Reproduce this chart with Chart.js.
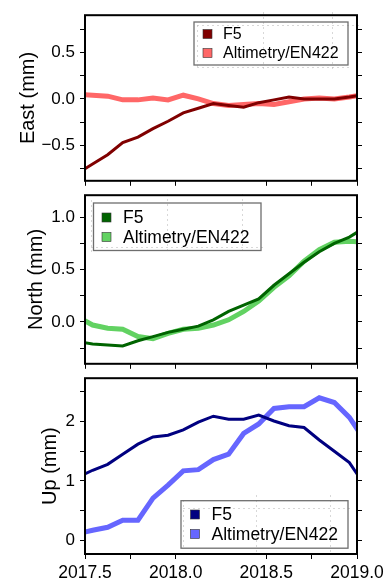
<!DOCTYPE html>
<html lang="en">
<head>
<meta charset="UTF-8">
<title>F5 vs Altimetry/EN422</title>
<script src="https://cdn.jsdelivr.net/npm/chart.js"></script>
<style>
  body { margin: 0; background: #fff; }
  #wrap { position: relative; width: 390px; height: 583px; overflow: hidden; }
  canvas { position: absolute; left: 0; }
</style>
</head>
<body>
<div id="wrap">
  <canvas id="east" width="390" height="196" style="top:0px"></canvas>
  <canvas id="north" width="390" height="199" style="top:180px"></canvas>
  <canvas id="up" width="390" height="220" style="top:363px"></canvas>
</div>
<script>
// monthly samples (decimal year, mid-month)
const months = [2017.458, 2017.542, 2017.625, 2017.708, 2017.792, 2017.875, 2017.958,
                2018.042, 2018.125, 2018.208, 2018.292, 2018.375, 2018.458, 2018.542,
                2018.625, 2018.708, 2018.792, 2018.875, 2018.958, 2019.042];

const seriesNames = ['F5', 'Altimetry/EN422'];

// East (mm)
const eastF5  = [-0.80, -0.70, -0.60, -0.47, -0.41, -0.32, -0.24, -0.15, -0.10, -0.05,
                 -0.07, -0.09, -0.04, -0.01, 0.02, 0.00, 0.00, 0.00, 0.02, 0.05];
const eastAlt = [0.05, 0.04, 0.03, -0.01, -0.01, 0.01, -0.01, 0.04, 0.00, -0.05,
                 -0.07, -0.06, -0.05, -0.06, -0.03, 0.00, 0.01, 0.00, 0.02, 0.05];

// North (mm)
const northF5  = [-0.19, -0.21, -0.22, -0.23, -0.18, -0.14, -0.10, -0.07, -0.04, 0.02,
                  0.10, 0.16, 0.22, 0.35, 0.46, 0.57, 0.67, 0.75, 0.81, 0.90];
const northAlt = [0.05, -0.03, -0.06, -0.07, -0.14, -0.16, -0.11, -0.07, -0.06, -0.03,
                  0.02, 0.10, 0.20, 0.33, 0.44, 0.58, 0.69, 0.76, 0.77, 0.76];

// Up (mm)
const upF5  = [1.06, 1.18, 1.28, 1.45, 1.62, 1.74, 1.77, 1.86, 1.99, 2.09,
               2.04, 2.04, 2.11, 2.01, 1.93, 1.90, 1.69, 1.50, 1.31, 0.93];
const upAlt = [0.11, 0.17, 0.22, 0.34, 0.34, 0.71, 0.93, 1.17, 1.19, 1.36,
               1.45, 1.80, 1.96, 2.22, 2.25, 2.25, 2.40, 2.32, 2.07, 1.69];

// axis ticks
const xTicks = [2017.5, 2017.75, 2018.0, 2018.5, 2018.75, 2019.0];
const xLabelled = [2017.5, 2018.0, 2018.5, 2019.0];
const eastTicks = [-0.75, -0.5, -0.25, 0, 0.25, 0.5, 0.75];
const eastLabelled = [-0.5, 0, 0.5];
const northTicks = [-0.25, 0, 0.25, 0.5, 0.75, 1.0];
const northLabelled = [0, 0.5, 1.0];
const upTicks = [0, 0.5, 1, 1.5, 2, 2.5];
const upLabelled = [0, 1, 2];

const FONT = '"Liberation Sans", Arial, Helvetica, sans-serif';

function fmt(v, dec) {
    return v.toFixed(dec).replace('-', '\u2212');
}

// frame round the plot + GMT-like legend box
const framePlugin = {
    id: 'frameLegend',
    afterDraw(chart, args, opts) {
        const ctx = chart.ctx;
        const a = chart.chartArea;
        ctx.save();
        // legend
        const lg = opts.legend;
        ctx.fillStyle = '#fff';
        ctx.fillRect(lg.box[0], lg.box[1], lg.box[2], lg.box[3]);
        ctx.strokeStyle = '#b0b0b0';
        ctx.lineWidth = 1;
        ctx.setLineDash([1, 4]);
        lg.dots.forEach(d => {
            ctx.beginPath();
            ctx.moveTo(d[0] + 0.5, d[1] + 0.5);
            ctx.lineTo(d[2] + 0.5, d[3] + 0.5);
            ctx.stroke();
        });
        ctx.setLineDash([]);
        ctx.strokeStyle = '#6e6e6e';
        ctx.lineWidth = 1.3;
        ctx.strokeRect(lg.box[0], lg.box[1], lg.box[2], lg.box[3]);
        chart.data.datasets.forEach((ds, i) => {
            const y = lg.rows[i];
            ctx.fillStyle = ds.borderColor;
            ctx.fillRect(lg.sqX - 4.5, y - 4.5, 9, 9);
            ctx.strokeStyle = '#333';
            ctx.lineWidth = 0.6;
            ctx.strokeRect(lg.sqX - 4.5, y - 4.5, 9, 9);
            ctx.fillStyle = '#000';
            ctx.font = lg.size + 'px ' + FONT;
            ctx.textBaseline = 'middle';
            ctx.textAlign = 'left';
            ctx.fillText(ds.label, lg.textX, y + 1);
        });
        // frame
        ctx.strokeStyle = '#000';
        ctx.lineWidth = 2;
        ctx.strokeRect(a.left, a.top, a.right - a.left, a.bottom - a.top);
        ctx.restore();
    }
};

function makePanel(id, cfg) {
    const pts = arr => months.map((m, i) => ({ x: m, y: arr[i] }));
    new Chart(document.getElementById(id), {
        type: 'line',
        data: {
            datasets: [
                { label: seriesNames[0], data: pts(cfg.f5), borderColor: cfg.dark, borderWidth: 3,
                  pointRadius: 0, tension: 0, fill: false },
                { label: seriesNames[1], data: pts(cfg.alt), borderColor: cfg.light, borderWidth: 5,
                  pointRadius: 0, tension: 0, fill: false }
            ]
        },
        options: {
            responsive: false,
            animation: false,
            layout: { padding: { top: 10, left: 0, right: 0, bottom: 0 } },
            plugins: {
                legend: { display: false },
                tooltip: { enabled: false },
                frameLegend: { legend: cfg.legend }
            },
            scales: {
                x: {
                    type: 'linear', min: 2017.5, max: 2019.0,
                    afterBuildTicks: s => { s.ticks = xTicks.map(v => ({ value: v })); },
                    afterFit: s => { s.height = cfg.xHeight; },
                    border: { display: false },
                    grid: { drawOnChartArea: false, tickLength: 5, tickWidth: 1, tickColor: '#000' },
                    ticks: {
                        display: cfg.showX, padding: 4, color: '#000',
                        font: { family: FONT, size: 17.5 },
                        maxRotation: 0, autoSkip: false,
                        callback: v => xLabelled.includes(v) ? v.toFixed(1) : ''
                    }
                },
                y: {
                    min: cfg.min, max: cfg.max,
                    afterBuildTicks: s => { s.ticks = cfg.ticks.map(v => ({ value: v })); },
                    afterFit: s => { s.width = 85; },
                    border: { display: false },
                    grid: { drawOnChartArea: false, tickLength: 5, tickWidth: 1, tickColor: '#000' },
                    ticks: {
                        padding: 5, color: '#000', autoSkip: false,
                        font: { family: FONT, size: 17 },
                        callback: v => cfg.labelled.includes(v) ? fmt(v, cfg.dec) : ''
                    },
                    title: {
                        display: true, text: cfg.title, color: '#000',
                        font: { family: FONT, size: 20 },
                        padding: { top: cfg.titlePad, bottom: 0 }
                    }
                },
                y2: {
                    position: 'right', min: cfg.min, max: cfg.max,
                    afterBuildTicks: s => { s.ticks = cfg.ticks.map(v => ({ value: v })); },
                    afterFit: s => { s.width = 33; },
                    border: { display: false },
                    grid: { drawOnChartArea: false, tickLength: 5, tickWidth: 1, tickColor: '#000' },
                    ticks: { display: false }
                }
            }
        },
        plugins: [framePlugin]
    });
}

makePanel('east', {
    f5: eastF5, alt: eastAlt, dark: '#800000', light: '#ff6767',
    min: -0.88, max: 0.9, ticks: eastTicks, labelled: eastLabelled, dec: 1,
    title: 'East (mm)', titlePad: 16, showX: false, xHeight: 6,
    legend: {
        box: [194, 22, 154, 43], rows: [34, 53], sqX: 207.5, textX: 223, size: 16,
        dots: [[197, 25, 358, 25], [197, 67, 350, 67], [197, 25, 197, 67],
               [263, 12, 263, 69], [332, 12, 332, 69]]
    }
});

makePanel('north', {
    f5: northF5, alt: northAlt, dark: '#006400', light: '#62d262',
    min: -0.4, max: 1.21, ticks: northTicks, labelled: northLabelled, dec: 1,
    title: 'North (mm)', titlePad: 24, showX: false, xHeight: 6,
    legend: {
        box: [93.5, 23, 167.5, 47.5], rows: [37.5, 57], sqX: 106.5, textX: 123, size: 17.5,
        dots: [[91, 67, 263, 67], [91, 20, 91, 73], [167, 14, 167, 74], [242, 14, 242, 74]]
    }
});

makePanel('up', {
    f5: upF5, alt: upAlt, dark: '#000080', light: '#6666ff',
    min: -0.23, max: 2.73, ticks: upTicks, labelled: upLabelled, dec: 0,
    title: 'Up (mm)', titlePad: 38, showX: true, xHeight: 29,
    legend: {
        box: [181, 137.7, 167, 47.5], rows: [151.5, 171], sqX: 195, textX: 211.5, size: 17.5,
        dots: [[183, 145, 351, 145], [183, 137, 183, 187], [256, 132, 256, 190], [330, 132, 330, 190]]
    }
});
</script>
</body>
</html>
